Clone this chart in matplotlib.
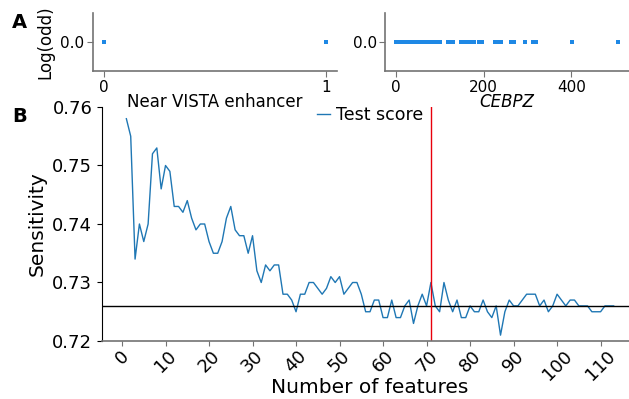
import matplotlib
matplotlib.use("Agg")
import matplotlib.pyplot as plt

# panel A: features selected in the top model
vista_x = [0, 1]
vista_y = [0.0, 0.0]

cebpz_x = [0, 5, 10, 15, 20, 25, 30, 35, 40, 45, 50, 55, 60, 65, 70, 75, 80,
           85, 90, 95, 100, 118, 124, 130, 148, 157, 165, 172, 178, 190, 197,
           225, 233, 240, 262, 270, 294, 312, 320, 402, 506]
cebpz_y = [0.0] * len(cebpz_x)

# panel B: sensitivity vs number of features
n_features = list(range(1, 114))
test_score = [
    0.758, 0.755, 0.734, 0.740, 0.737, 0.740, 0.752, 0.753, 0.746, 0.750,
    0.749, 0.743, 0.743, 0.742, 0.744, 0.741, 0.739, 0.740, 0.740, 0.737,
    0.735, 0.735, 0.737, 0.741, 0.743, 0.739, 0.738, 0.738, 0.735, 0.738,
    0.732, 0.730, 0.733, 0.732, 0.733, 0.733, 0.728, 0.728, 0.727, 0.725,
    0.728, 0.728, 0.730, 0.730, 0.729, 0.728, 0.729, 0.731, 0.730, 0.731,
    0.728, 0.729, 0.730, 0.730, 0.728, 0.725, 0.725, 0.727, 0.727, 0.724,
    0.724, 0.727, 0.724, 0.724, 0.726, 0.727, 0.723, 0.726, 0.728, 0.726,
    0.730, 0.726, 0.725, 0.730, 0.727, 0.725, 0.727, 0.724, 0.724, 0.726,
    0.725, 0.725, 0.727, 0.725, 0.724, 0.726, 0.721, 0.725, 0.727, 0.726,
    0.726, 0.727, 0.728, 0.728, 0.728, 0.726, 0.727, 0.725, 0.726, 0.728,
    0.727, 0.726, 0.727, 0.727, 0.726, 0.726, 0.726, 0.725, 0.725, 0.725,
    0.726, 0.726, 0.726,
]
baseline = 0.726
best_n = 71
xticks_b = [0, 10, 20, 30, 40, 50, 60, 70, 80, 90, 100, 110]

W, H = 629, 399
fig = plt.figure(figsize=(W / 100, H / 100), dpi=100)


def box(left, top, right, bottom):
    # pixel box -> figure fraction
    return [left / W, 1 - bottom / H, (right - left) / W, (bottom - top) / H]


marker_blue = '#1e88e5'
grey = '0.45'

# main panel first so the panel A labels are drawn on top of it
ax = fig.add_axes(box(102, 107, 638, 341))
ax.plot(n_features, test_score, color='#1f77b4', linewidth=1, label='Test score')
ax.axhline(baseline, color='black', linewidth=1)
ax.axvline(best_n, color='#e8000b', linewidth=1)
ax.set_xlim(-4.6, 118.6)
ax.set_ylim(0.72, 0.76)
ax.set_yticks([0.72, 0.73, 0.74, 0.75, 0.76])
ax.set_xticks(xticks_b)
ax.tick_params(axis='x', labelrotation=45, labelsize=13, color=grey, pad=1)
ax.tick_params(axis='y', labelsize=13)
for s in ['top', 'right']:
    ax.spines[s].set_visible(False)
ax.spines['bottom'].set_color(grey)
ax.spines['bottom'].set_linewidth(1.2)
ax.set_xlabel('Number of features', fontsize=14.5, labelpad=-4)
ax.set_ylabel('Sensitivity', fontsize=14.5)
ax.legend(loc='upper center', bbox_to_anchor=(0.5, 1.07), frameon=False,
          fontsize=12.5, handlelength=0.75, handletextpad=0.35)

ax_a1 = fig.add_axes(box(92.7, 13.3, 336.8, 71.3))
ax_a2 = fig.add_axes(box(385, 13.3, 628.7, 71.3))
for a, x, y, label, style in [(ax_a1, vista_x, vista_y, 'Near VISTA enhancer', 'normal'),
                              (ax_a2, cebpz_x, cebpz_y, 'CEBPZ', 'italic')]:
    a.plot(x, y, 's', color=marker_blue, markersize=3, markeredgewidth=0)
    a.set_ylim(-0.1, 0.1)
    a.set_yticks([0.0])
    a.set_yticklabels(['0.0'])
    a.set_xlabel(label, fontsize=12, fontstyle=style, labelpad=-1)
    a.tick_params(labelsize=11, color=grey, length=4, pad=2)
    a.patch.set_visible(False)
    for s in ['top', 'right']:
        a.spines[s].set_visible(False)
    for s in ['left', 'bottom']:
        a.spines[s].set_color(grey)
        a.spines[s].set_linewidth(1.2)
ax_a1.set_xticks([0, 1])
ax_a2.set_xticks([0, 200, 400])
ax_a1.set_ylabel('Log(odd)', fontsize=12, labelpad=4)

fig.text(12 / W, 1 - 22 / H, 'A', fontsize=14, fontweight='bold', va='center')
fig.text(12 / W, 1 - 116 / H, 'B', fontsize=14, fontweight='bold', va='center')

plt.savefig('out.png', dpi=100)
plt.close()
